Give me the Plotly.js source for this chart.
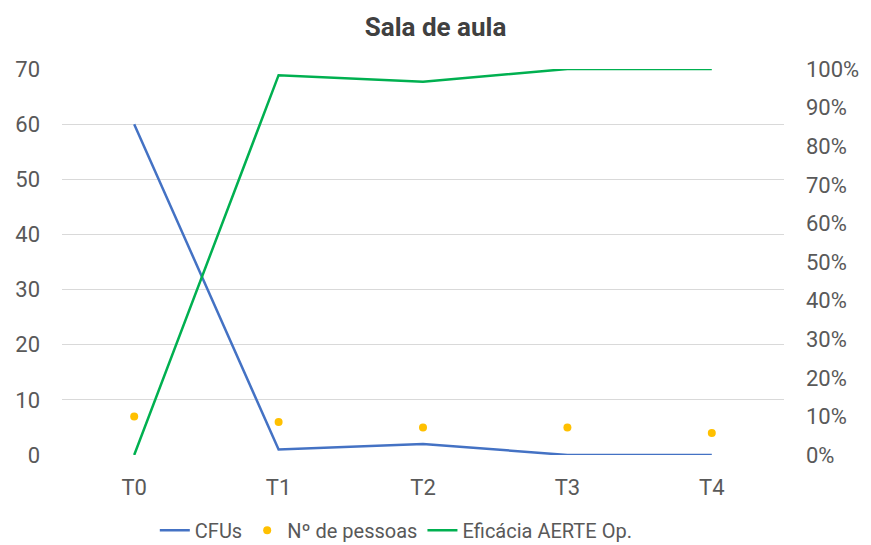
<!DOCTYPE html>
<html><head><meta charset="utf-8">
<script src="https://cdn.plot.ly/plotly-3.0.1.min.js"></script>
<style>html,body{margin:0;padding:0;background:#fff}#chart{width:871px;height:545px}</style>
</head><body><div id="chart"></div>
<script>
const categories = ["T0","T1","T2","T3","T4"];
const cfus = [60, 1, 2, 0, 0];
const pessoas = [7, 6, 5, 5, 4];
const eficacia = [0, 0.984, 0.967, 1.0, 1.0];
const leftTicks = [0,10,20,30,40,50,60,70];
const rightTicks = [0,0.1,0.2,0.3,0.4,0.5,0.6,0.7,0.8,0.9,1.0];

const font = {family: "Roboto, 'Open Sans', sans-serif", size: 22, color: "#595959"};
const data = [
  {x: categories, y: cfus, name: "CFUs", type: "scatter", mode: "lines",
   line: {color: "#4472c4", width: 2.5}},
  {x: categories, y: pessoas, name: "Nº de pessoas", type: "scatter", mode: "markers",
   marker: {color: "#ffc000", size: 8, symbol: "circle"}},
  {x: categories, y: eficacia, name: "Eficácia AERTE Op.", type: "scatter", mode: "lines",
   yaxis: "y2", line: {color: "#00b050", width: 2.5}}
];
const layout = {
  width: 871, height: 545,
  margin: {l: 62, r: 87, t: 69, b: 90, autoexpand: false},
  paper_bgcolor: "#fff", plot_bgcolor: "#fff",
  font: font,
  title: {text: "<b>Sala de aula</b>", x: 0.5, xanchor: "center", y: 0.95, yanchor: "middle",
          font: {family: "Roboto, sans-serif", size: 26, color: "#404040"}},
  showlegend: true,
  legend: {orientation: "h", x: 0.455, xanchor: "center", xref: "container", yref: "container",
           y: 0.027, yanchor: "middle",
           font: {family: "Roboto, sans-serif", size: 20, color: "#595959"}, itemwidth: 30},
  xaxis: {type: "category", range: [-0.5, 4.5], showgrid: false, zeroline: false,
          showline: false, ticks: "", tickfont: font, ticklabelstandoff: 17, automargin: false},
  yaxis: {range: [0, 70], tickvals: leftTicks, showgrid: true, gridcolor: "#d9d9d9", gridwidth: 1,
          zeroline: false, showline: false, ticks: "", tickfont: font, ticklabelstandoff: 21, automargin: false},
  yaxis2: {overlaying: "y", side: "right", range: [0, 1], tickvals: rightTicks, tickformat: ".0%",
           showgrid: false, zeroline: false, showline: false, ticks: "", tickfont: font,
           ticklabelstandoff: 21, automargin: false}
};
Plotly.newPlot("chart", data, layout, {displayModeBar: false, staticPlot: true});
</script></body></html>
